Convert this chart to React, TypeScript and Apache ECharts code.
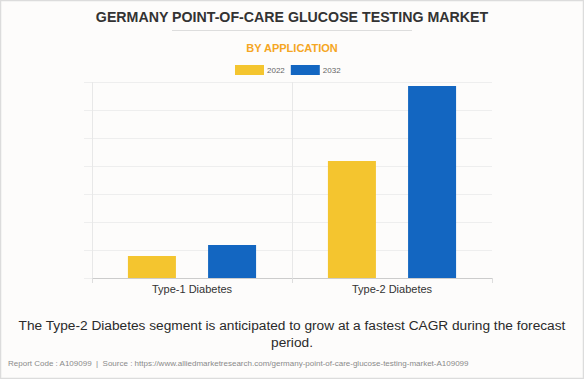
import React, { useEffect, useRef } from "react";
import * as echarts from "echarts";

const categories = ["Type-1 Diabetes", "Type-2 Diabetes"];
const seriesNames = ["2022", "2032"];
const values2022 = [0.79, 4.18];
const values2032 = [1.18, 6.86];
const colors = ["#F4C52F", "#1366C1"];

const titleText = "GERMANY POINT-OF-CARE GLUCOSE TESTING MARKET";
const subtitleText = "BY APPLICATION";
const noteLine1 = "The Type-2 Diabetes segment is anticipated to grow at a fastest CAGR during the forecast";
const noteLine2 = "period.";
const footerText =
  "Report Code : A109099  |  Source : https://www.alliedmarketresearch.com/germany-point-of-care-glucose-testing-market-A109099";

const FONT = "'Liberation Sans', Arial, sans-serif";

export default function App() {
  const ref = useRef<HTMLDivElement>(null);
  useEffect(() => {
    document.body.style.margin = "0";
    const chart = echarts.init(ref.current!, null, { renderer: "svg" });
    chart.setOption({
      animation: false,
      backgroundColor: "#FDFCFB",
      textStyle: { fontFamily: FONT },
      title: [
        {
          text: titleText,
          left: "center",
          top: 5,
          textStyle: { fontSize: 14.2, fontWeight: "bold", color: "#333333", fontFamily: FONT },
        },
        {
          text: subtitleText,
          left: "center",
          top: 37,
          textStyle: { fontSize: 11, fontWeight: "bold", color: "#F5A623", fontFamily: FONT },
        },
        {
          text: noteLine1,
          left: "center",
          top: 313,
          textStyle: { fontSize: 13.7, fontWeight: "normal", color: "#2A2A2A", fontFamily: FONT },
        },
        {
          text: noteLine2,
          left: "center",
          top: 330,
          textStyle: { fontSize: 13.7, fontWeight: "normal", color: "#2A2A2A", fontFamily: FONT },
        },
        {
          text: footerText,
          left: 3,
          top: 354,
          textStyle: { fontSize: 8, fontWeight: "normal", color: "#8A8A8A", fontFamily: FONT },
        },
      ],
      graphic: [
        {
          type: "rect",
          shape: { x: 0.5, y: 0.5, width: 583, height: 378 },
          style: { fill: "none", stroke: "#DCDCDC", lineWidth: 1.5 },
          silent: true,
        },
        {
          type: "line",
          shape: { x1: 172, y1: 30.5, x2: 412, y2: 30.5 },
          style: { stroke: "#DDDDDD", lineWidth: 1 },
          silent: true,
        },
      ],
      legend: {
        data: seriesNames,
        top: 60,
        left: 230,
        itemWidth: 29,
        itemHeight: 10,
        itemGap: 6,
        icon: "rect",
        textStyle: { fontSize: 8, color: "#666666", fontFamily: FONT, padding: [0, 0, 0, -2] },
      },
      grid: { left: 92, right: 92, top: 82, bottom: 101, containLabel: false },
      xAxis: {
        type: "category",
        data: categories,
        axisLine: { show: true, lineStyle: { color: "#CCCCCC", width: 1 } },
        axisTick: { show: true, length: 5, lineStyle: { color: "#DDDDDD" } },
        axisLabel: { fontSize: 11, color: "#333333", margin: 5, fontFamily: FONT },
        splitLine: { show: true, showMaxLine: false, lineStyle: { color: "#E8E8E8" } },
      },
      yAxis: {
        type: "value",
        min: 0,
        max: 7,
        interval: 1,
        axisLabel: { show: false },
        axisLine: { show: false },
        axisTick: { show: true, length: 8, lineStyle: { color: "#EEEEEE" } },
        splitLine: { show: true, lineStyle: { color: "#EEEEEE" } },
      },
      series: [
        {
          name: seriesNames[0],
          type: "bar",
          data: values2022,
          barWidth: 48,
          barGap: "67%",
          itemStyle: { color: colors[0] },
        },
        {
          name: seriesNames[1],
          type: "bar",
          data: values2032,
          barWidth: 48,
          barGap: "67%",
          itemStyle: { color: colors[1] },
        },
      ],
    });
    return () => chart.dispose();
  }, []);
  return <div ref={ref} style={{ width: 584, height: 379 }} />;
}
